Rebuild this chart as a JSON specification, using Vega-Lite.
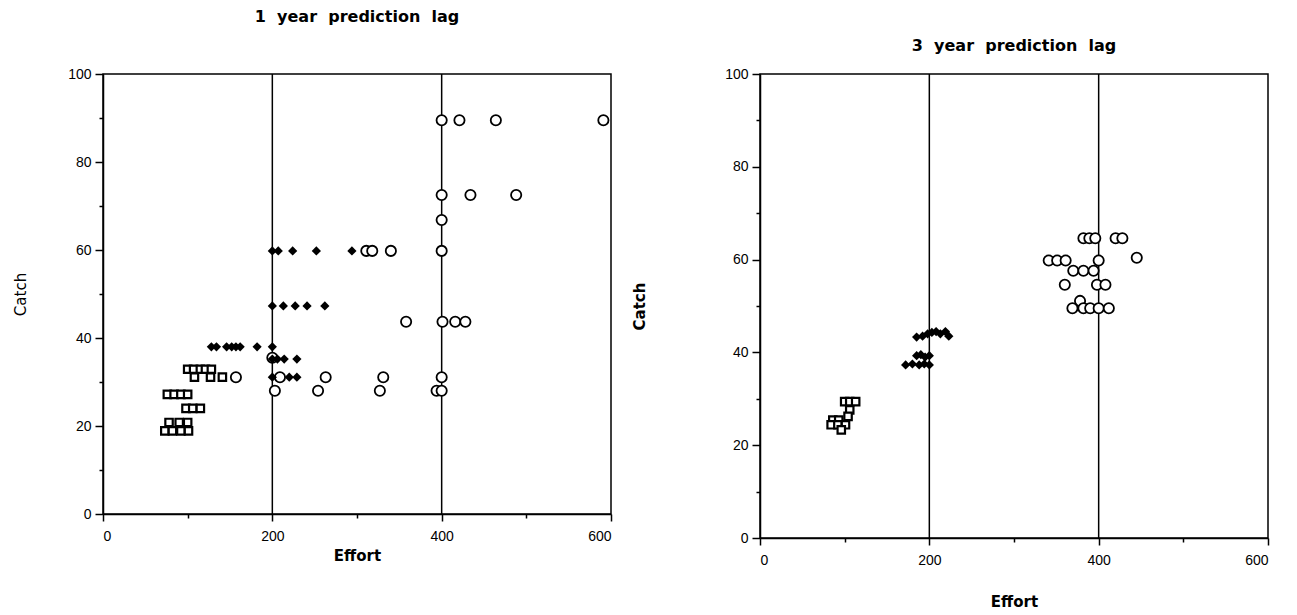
{
  "$schema": "https://vega.github.io/schema/vega-lite/v6.json",
  "autosize": {"type": "pad"},
  "padding": {"left": 12, "top": 8, "right": 5, "bottom": 5},
  "background": "white",
  "bounds": "flush",
  "spacing": 149,
  "datasets": {
    "pts": [
      {"panel": "p1", "series": "o", "effort": 400, "catch": 89.5},
      {"panel": "p1", "series": "o", "effort": 421, "catch": 89.5},
      {"panel": "p1", "series": "o", "effort": 464, "catch": 89.5},
      {"panel": "p1", "series": "o", "effort": 591, "catch": 89.5},
      {"panel": "p1", "series": "o", "effort": 400, "catch": 72.5},
      {"panel": "p1", "series": "o", "effort": 434, "catch": 72.5},
      {"panel": "p1", "series": "o", "effort": 488, "catch": 72.5},
      {"panel": "p1", "series": "o", "effort": 400, "catch": 66.8},
      {"panel": "p1", "series": "o", "effort": 311, "catch": 59.8},
      {"panel": "p1", "series": "o", "effort": 318, "catch": 59.8},
      {"panel": "p1", "series": "o", "effort": 340, "catch": 59.8},
      {"panel": "p1", "series": "o", "effort": 400, "catch": 59.8},
      {"panel": "p1", "series": "o", "effort": 358, "catch": 43.7},
      {"panel": "p1", "series": "o", "effort": 401, "catch": 43.7},
      {"panel": "p1", "series": "o", "effort": 416, "catch": 43.7},
      {"panel": "p1", "series": "o", "effort": 428, "catch": 43.7},
      {"panel": "p1", "series": "o", "effort": 200, "catch": 35.5},
      {"panel": "p1", "series": "o", "effort": 157, "catch": 31.1},
      {"panel": "p1", "series": "o", "effort": 209, "catch": 31.1},
      {"panel": "p1", "series": "o", "effort": 263, "catch": 31.1},
      {"panel": "p1", "series": "o", "effort": 331, "catch": 31.1},
      {"panel": "p1", "series": "o", "effort": 400, "catch": 31.1},
      {"panel": "p1", "series": "o", "effort": 203, "catch": 28.0},
      {"panel": "p1", "series": "o", "effort": 254, "catch": 28.0},
      {"panel": "p1", "series": "o", "effort": 327, "catch": 28.0},
      {"panel": "p1", "series": "o", "effort": 394, "catch": 28.0},
      {"panel": "p1", "series": "o", "effort": 400, "catch": 28.0},
      {"panel": "p1", "series": "d", "effort": 200, "catch": 59.8},
      {"panel": "p1", "series": "d", "effort": 207, "catch": 59.8},
      {"panel": "p1", "series": "d", "effort": 224, "catch": 59.8},
      {"panel": "p1", "series": "d", "effort": 252, "catch": 59.8},
      {"panel": "p1", "series": "d", "effort": 294, "catch": 59.8},
      {"panel": "p1", "series": "d", "effort": 200, "catch": 47.3},
      {"panel": "p1", "series": "d", "effort": 213, "catch": 47.3},
      {"panel": "p1", "series": "d", "effort": 227, "catch": 47.3},
      {"panel": "p1", "series": "d", "effort": 241, "catch": 47.3},
      {"panel": "p1", "series": "d", "effort": 262, "catch": 47.3},
      {"panel": "p1", "series": "d", "effort": 128, "catch": 38.0},
      {"panel": "p1", "series": "d", "effort": 134, "catch": 38.0},
      {"panel": "p1", "series": "d", "effort": 146, "catch": 38.0},
      {"panel": "p1", "series": "d", "effort": 152, "catch": 38.0},
      {"panel": "p1", "series": "d", "effort": 157, "catch": 38.0},
      {"panel": "p1", "series": "d", "effort": 162, "catch": 38.0},
      {"panel": "p1", "series": "d", "effort": 182, "catch": 38.0},
      {"panel": "p1", "series": "d", "effort": 200, "catch": 38.0},
      {"panel": "p1", "series": "d", "effort": 200, "catch": 35.2},
      {"panel": "p1", "series": "d", "effort": 206, "catch": 35.2},
      {"panel": "p1", "series": "d", "effort": 214, "catch": 35.2},
      {"panel": "p1", "series": "d", "effort": 229, "catch": 35.2},
      {"panel": "p1", "series": "d", "effort": 200, "catch": 31.1},
      {"panel": "p1", "series": "d", "effort": 220, "catch": 31.1},
      {"panel": "p1", "series": "d", "effort": 229, "catch": 31.1},
      {"panel": "p1", "series": "s", "effort": 100, "catch": 32.9},
      {"panel": "p1", "series": "s", "effort": 107, "catch": 32.9},
      {"panel": "p1", "series": "s", "effort": 115, "catch": 32.9},
      {"panel": "p1", "series": "s", "effort": 121, "catch": 32.9},
      {"panel": "p1", "series": "s", "effort": 128, "catch": 32.9},
      {"panel": "p1", "series": "s", "effort": 108, "catch": 31.1},
      {"panel": "p1", "series": "s", "effort": 127, "catch": 31.1},
      {"panel": "p1", "series": "s", "effort": 141, "catch": 31.1},
      {"panel": "p1", "series": "s", "effort": 76, "catch": 27.2},
      {"panel": "p1", "series": "s", "effort": 84, "catch": 27.2},
      {"panel": "p1", "series": "s", "effort": 92, "catch": 27.2},
      {"panel": "p1", "series": "s", "effort": 100, "catch": 27.2},
      {"panel": "p1", "series": "s", "effort": 98, "catch": 24.0},
      {"panel": "p1", "series": "s", "effort": 106, "catch": 24.0},
      {"panel": "p1", "series": "s", "effort": 115, "catch": 24.0},
      {"panel": "p1", "series": "s", "effort": 78, "catch": 20.8},
      {"panel": "p1", "series": "s", "effort": 90, "catch": 20.8},
      {"panel": "p1", "series": "s", "effort": 100, "catch": 20.8},
      {"panel": "p1", "series": "s", "effort": 73, "catch": 18.9},
      {"panel": "p1", "series": "s", "effort": 82, "catch": 18.9},
      {"panel": "p1", "series": "s", "effort": 92, "catch": 18.9},
      {"panel": "p1", "series": "s", "effort": 101, "catch": 18.9},

      {"panel": "p2", "series": "o", "effort": 382, "catch": 64.6},
      {"panel": "p2", "series": "o", "effort": 389, "catch": 64.6},
      {"panel": "p2", "series": "o", "effort": 396, "catch": 64.6},
      {"panel": "p2", "series": "o", "effort": 420, "catch": 64.6},
      {"panel": "p2", "series": "o", "effort": 428, "catch": 64.6},
      {"panel": "p2", "series": "o", "effort": 341, "catch": 59.8},
      {"panel": "p2", "series": "o", "effort": 351, "catch": 59.8},
      {"panel": "p2", "series": "o", "effort": 361, "catch": 59.8},
      {"panel": "p2", "series": "o", "effort": 400, "catch": 59.8},
      {"panel": "p2", "series": "o", "effort": 445, "catch": 60.4},
      {"panel": "p2", "series": "o", "effort": 370, "catch": 57.6},
      {"panel": "p2", "series": "o", "effort": 382, "catch": 57.6},
      {"panel": "p2", "series": "o", "effort": 394, "catch": 57.6},
      {"panel": "p2", "series": "o", "effort": 360, "catch": 54.6},
      {"panel": "p2", "series": "o", "effort": 398, "catch": 54.6},
      {"panel": "p2", "series": "o", "effort": 408, "catch": 54.6},
      {"panel": "p2", "series": "o", "effort": 378, "catch": 51.1},
      {"panel": "p2", "series": "o", "effort": 369, "catch": 49.5},
      {"panel": "p2", "series": "o", "effort": 382, "catch": 49.5},
      {"panel": "p2", "series": "o", "effort": 390, "catch": 49.5},
      {"panel": "p2", "series": "o", "effort": 400, "catch": 49.5},
      {"panel": "p2", "series": "o", "effort": 412, "catch": 49.5},
      {"panel": "p2", "series": "d", "effort": 185, "catch": 43.3},
      {"panel": "p2", "series": "d", "effort": 192, "catch": 43.5},
      {"panel": "p2", "series": "d", "effort": 198, "catch": 44.0},
      {"panel": "p2", "series": "d", "effort": 203, "catch": 44.3},
      {"panel": "p2", "series": "d", "effort": 208, "catch": 44.5},
      {"panel": "p2", "series": "d", "effort": 213, "catch": 44.0},
      {"panel": "p2", "series": "d", "effort": 219, "catch": 44.5},
      {"panel": "p2", "series": "d", "effort": 223, "catch": 43.5},
      {"panel": "p2", "series": "d", "effort": 185, "catch": 39.3},
      {"panel": "p2", "series": "d", "effort": 190, "catch": 39.5},
      {"panel": "p2", "series": "d", "effort": 195, "catch": 39.0},
      {"panel": "p2", "series": "d", "effort": 200, "catch": 39.3},
      {"panel": "p2", "series": "d", "effort": 172, "catch": 37.3},
      {"panel": "p2", "series": "d", "effort": 180, "catch": 37.5},
      {"panel": "p2", "series": "d", "effort": 188, "catch": 37.3},
      {"panel": "p2", "series": "d", "effort": 194, "catch": 37.5},
      {"panel": "p2", "series": "d", "effort": 200, "catch": 37.3},
      {"panel": "p2", "series": "s", "effort": 100, "catch": 29.4},
      {"panel": "p2", "series": "s", "effort": 106, "catch": 29.4},
      {"panel": "p2", "series": "s", "effort": 113, "catch": 29.4},
      {"panel": "p2", "series": "s", "effort": 106, "catch": 27.6},
      {"panel": "p2", "series": "s", "effort": 104, "catch": 26.2},
      {"panel": "p2", "series": "s", "effort": 86, "catch": 25.4},
      {"panel": "p2", "series": "s", "effort": 93, "catch": 25.4},
      {"panel": "p2", "series": "s", "effort": 84, "catch": 24.4},
      {"panel": "p2", "series": "s", "effort": 92, "catch": 24.4},
      {"panel": "p2", "series": "s", "effort": 101, "catch": 24.4},
      {"panel": "p2", "series": "s", "effort": 96, "catch": 23.3}
    ],
    "rules": [{"effort": 200}, {"effort": 400}]
  },
  "config": {
    "view": {"stroke": "black", "strokeWidth": 1.5},
    "axis": {
      "grid": false,
      "domainColor": "black",
      "domainWidth": 1.5,
      "tickColor": "black",
      "tickWidth": 1.5,
      "labelFont": "Liberation Sans",
      "labelFontSize": 14,
      "labelColor": "black",
      "labelPadding": 4,
      "titleFont": "DejaVu Sans",
      "titleFontSize": 15,
      "titleFontWeight": "bold",
      "titleColor": "black"
    },
    "axisX": {"labelPadding": 8},
    "title": {"font": "DejaVu Sans", "fontSize": 16, "fontWeight": "bold", "color": "black", "anchor": "middle", "frame": "group"}
  },
  "hconcat": [
    {
      "width": 508,
      "height": 440,
      "title": {"text": "1\u00a0 year\u00a0 prediction\u00a0 lag", "offset": 42},
      "layer": [
        {
          "data": {"name": "rules"},
          "mark": {"type": "rule", "color": "black", "strokeWidth": 1.5},
          "encoding": {"x": {"field": "effort", "type": "quantitative", "scale": {"domain": [0, 600], "nice": false}}}
        },
        {
          "data": {"name": "pts"},
          "transform": [{"filter": "datum.panel === 'p1' && datum.series === 'o'"}],
          "mark": {"type": "point", "shape": "circle", "filled": true, "fill": "white", "stroke": "black", "strokeWidth": 1.8, "size": 105, "opacity": 1},
          "encoding": {
            "x": {"field": "effort", "type": "quantitative", "scale": {"domain": [0, 600], "nice": false},
              "axis": {"title": "Effort", "values": [0, 100, 200, 300, 400, 500, 600], "labelExpr": "datum.value % 200 === 0 ? datum.label : ''", "tickSize": {"condition": {"test": "datum.value % 200 !== 0", "value": 4}, "value": 7}, "titlePadding": 5}},
            "y": {"field": "catch", "type": "quantitative", "scale": {"domain": [0, 100], "nice": false},
              "axis": {"title": "Catch", "values": [0, 10, 20, 30, 40, 50, 60, 70, 80, 90, 100], "labelExpr": "datum.value % 20 === 0 ? datum.label : ''", "tickSize": {"condition": {"test": "datum.value % 20 !== 0", "value": 4}, "value": 8}, "titlePadding": 39, "titleFontWeight": "normal"}}
          }
        },
        {
          "data": {"name": "pts"},
          "transform": [{"filter": "datum.panel === 'p1' && datum.series === 'd'"}],
          "mark": {"type": "point", "shape": "diamond", "filled": true, "color": "black", "size": 85, "opacity": 1},
          "encoding": {
            "x": {"field": "effort", "type": "quantitative"},
            "y": {"field": "catch", "type": "quantitative"}
          }
        },
        {
          "data": {"name": "pts"},
          "transform": [{"filter": "datum.panel === 'p1' && datum.series === 's'"}],
          "mark": {"type": "point", "shape": "square", "filled": true, "fill": "white", "stroke": "black", "strokeWidth": 2.2, "size": 55, "opacity": 1},
          "encoding": {
            "x": {"field": "effort", "type": "quantitative"},
            "y": {"field": "catch", "type": "quantitative"}
          }
        }
      ]
    },
    {
      "width": 508,
      "height": 464,
      "title": {"text": "3\u00a0 year\u00a0 prediction\u00a0 lag", "offset": 13},
      "layer": [
        {
          "data": {"name": "rules"},
          "mark": {"type": "rule", "color": "black", "strokeWidth": 1.5},
          "encoding": {"x": {"field": "effort", "type": "quantitative", "scale": {"domain": [0, 600], "nice": false}}}
        },
        {
          "data": {"name": "pts"},
          "transform": [{"filter": "datum.panel === 'p2' && datum.series === 'o'"}],
          "mark": {"type": "point", "shape": "circle", "filled": true, "fill": "white", "stroke": "black", "strokeWidth": 1.8, "size": 105, "opacity": 1},
          "encoding": {
            "x": {"field": "effort", "type": "quantitative", "scale": {"domain": [0, 600], "nice": false},
              "axis": {"title": "Effort", "values": [0, 100, 200, 300, 400, 500, 600], "labelExpr": "datum.value % 200 === 0 ? datum.label : ''", "tickSize": {"condition": {"test": "datum.value % 200 !== 0", "value": 4}, "value": 7}, "titlePadding": 27}},
            "y": {"field": "catch", "type": "quantitative", "scale": {"domain": [0, 100], "nice": false},
              "axis": {"title": "Catch", "values": [0, 10, 20, 30, 40, 50, 60, 70, 80, 90, 100], "labelExpr": "datum.value % 20 === 0 ? datum.label : ''", "tickSize": {"condition": {"test": "datum.value % 20 !== 0", "value": 4}, "value": 8}, "titlePadding": 77}}
          }
        },
        {
          "data": {"name": "pts"},
          "transform": [{"filter": "datum.panel === 'p2' && datum.series === 'd'"}],
          "mark": {"type": "point", "shape": "diamond", "filled": true, "color": "black", "size": 85, "opacity": 1},
          "encoding": {
            "x": {"field": "effort", "type": "quantitative"},
            "y": {"field": "catch", "type": "quantitative"}
          }
        },
        {
          "data": {"name": "pts"},
          "transform": [{"filter": "datum.panel === 'p2' && datum.series === 's'"}],
          "mark": {"type": "point", "shape": "square", "filled": true, "fill": "white", "stroke": "black", "strokeWidth": 2.2, "size": 55, "opacity": 1},
          "encoding": {
            "x": {"field": "effort", "type": "quantitative"},
            "y": {"field": "catch", "type": "quantitative"}
          }
        }
      ]
    }
  ]
}
